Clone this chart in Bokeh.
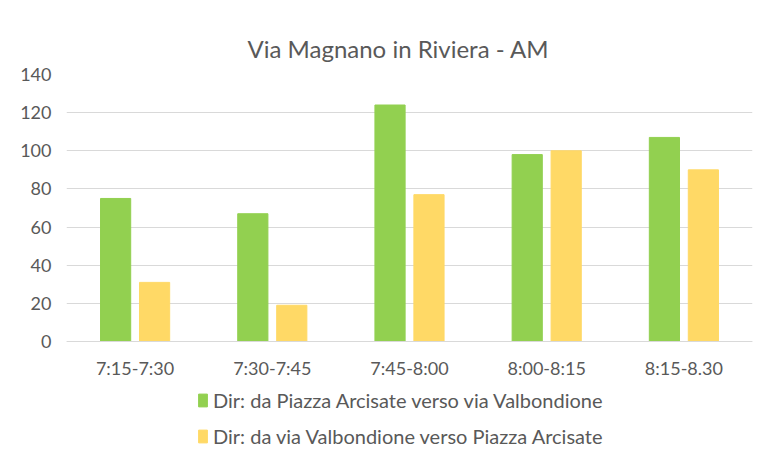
from bokeh.plotting import figure
from bokeh.models import ColumnDataSource, Legend, LegendItem, FactorRange, FixedTicker, CategoricalAxis
from bokeh.transform import dodge
from bokeh.embed import file_html
from bokeh.resources import INLINE

categories = ["7:15-7:30", "7:30-7:45", "7:45-8:00", "8:00-8:15", "8:15-8.30"]
series_a = [75, 67, 124, 98, 107]
series_b = [31, 19, 77, 100, 90]
name_a = "Dir: da Piazza Arcisate verso via Valbondione"
name_b = "Dir: da via Valbondione verso Piazza Arcisate"
title_text = "Via Magnano in Riviera - AM"
y_ticks = [0, 20, 40, 60, 80, 100, 120, 140]

FONT = "Lato"
TXT = "#595959"
GRID = "#D9D9D9"

# layout in pixels
W, H = 765, 463
frame_left, frame_right, frame_top, frame_bottom = 66, 752, 74, 455
zero_px = 341
y_max = 140
y_min = -y_max * (frame_bottom - zero_px) / (zero_px - frame_top)

src = ColumnDataSource(dict(cat=categories, a=series_a, b=series_b))

p = figure(width=W, height=H, x_range=FactorRange(*categories, range_padding=0),
           y_range=(y_min, y_max), output_backend="svg", toolbar_location=None,
           min_border_left=frame_left, min_border_right=W - frame_right,
           min_border_top=frame_top, min_border_bottom=H - frame_bottom,
           x_axis_location=None)
p.outline_line_color = None
p.border_fill_color = "white"

p.title.text = title_text
p.title.align = "left"
p.title.offset = 247 - frame_left
p.title.text_font = FONT
p.title.text_font_size = "24px"
p.title.text_font_style = "normal"
p.title.text_color = TXT
p.title.standoff = 24

ra = p.vbar(x=dodge("cat", -0.142, range=p.x_range), top="a", width=0.22, source=src,
            fill_color="#92D050", line_color="#92D050")
rb = p.vbar(x=dodge("cat", 0.142, range=p.x_range), top="b", width=0.22, source=src,
            fill_color="#FFD966", line_color="#FFD966")

xaxis = CategoricalAxis(fixed_location=0)
p.add_layout(xaxis, "below")
xaxis.axis_line_color = GRID
xaxis.axis_line_width = 1
xaxis.major_tick_line_color = None
xaxis.minor_tick_line_color = None
xaxis.major_label_text_font = FONT
xaxis.major_label_text_font_size = "18px"
xaxis.major_label_text_color = TXT
xaxis.major_label_standoff = 9

p.xgrid.grid_line_color = None
p.ygrid.grid_line_color = GRID
p.ygrid.grid_line_width = 1
p.yaxis.ticker = FixedTicker(ticks=y_ticks)
p.yaxis.axis_line_color = None
p.yaxis.major_tick_line_color = None
p.yaxis.minor_tick_line_color = None
p.yaxis.major_label_text_font = FONT
p.yaxis.major_label_text_font_size = "18px"
p.yaxis.major_label_text_color = TXT
p.yaxis.major_label_standoff = 9

legend = Legend(items=[LegendItem(label=name_a, renderers=[ra]), LegendItem(label=name_b, renderers=[rb])],
                location=(197 - frame_left, frame_bottom - 448), orientation="vertical",
                label_text_font=FONT, label_text_font_size="20px", label_text_color=TXT,
                glyph_width=11, glyph_height=16, label_height=20, spacing=12,
                padding=0, margin=0, border_line_color=None, background_fill_alpha=0,
                label_standoff=5)
p.add_layout(legend, "center")

open("out.html", "w").write(file_html(p, INLINE))
